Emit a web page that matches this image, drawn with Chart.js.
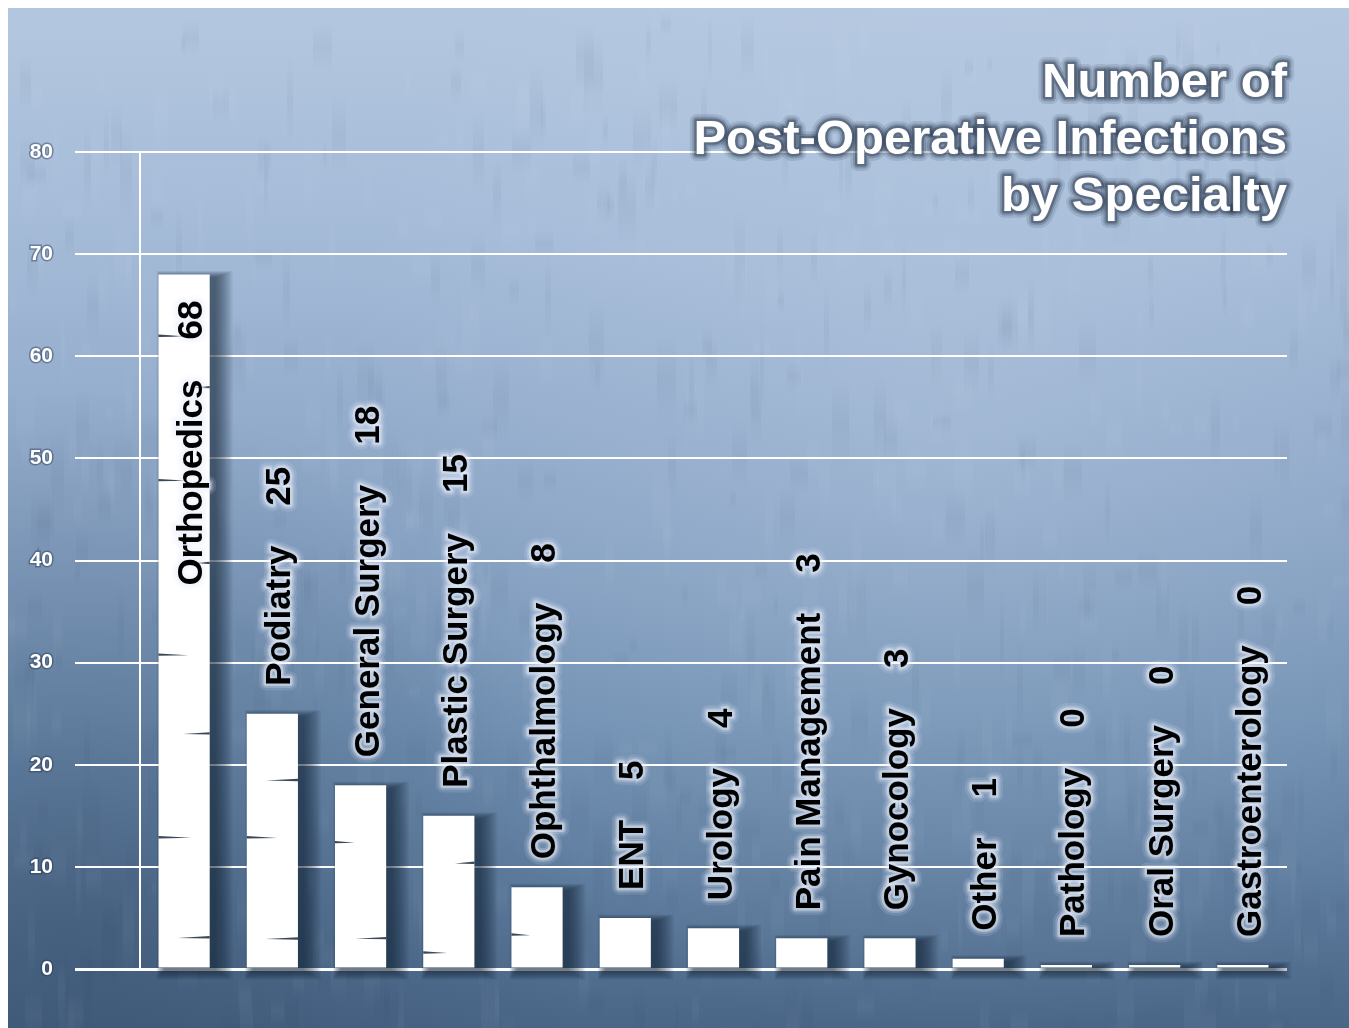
<!DOCTYPE html>
<html>
<head>
<meta charset="utf-8">
<script src="https://cdn.jsdelivr.net/npm/chart.js@4/dist/chart.umd.min.js"></script>
<style>
  html, body { margin: 0; padding: 0; background: #ffffff; overflow: hidden; }
  #wrap { position: absolute; left: 8px; top: 8px; width: 1341px; height: 1020px; }
</style>
</head>
<body>
<div id="wrap"><canvas id="chart" width="1341" height="1020"></canvas></div>
<script>
// Infection counts per surgical specialty
const categories = [
  'Orthopedics', 'Podiatry', 'General Surgery', 'Plastic Surgery', 'Ophthalmology',
  'ENT', 'Urology', 'Pain Management', 'Gynocology', 'Other',
  'Pathology', 'Oral Surgery', 'Gastroenterology'
];
const infections = [68, 25, 18, 15, 8, 5, 4, 3, 3, 1, 0, 0, 0];
const yTicks = [0, 10, 20, 30, 40, 50, 60, 70, 80];
const titleLines = ['Number of', 'Post-Operative Infections', 'by Specialty'];

const FONT = '"Liberation Sans", Arial, Helvetica, sans-serif';

// cheap deterministic hash for the paper texture
function hash(n) {
  const s = Math.sin(n * 127.1 + 311.7) * 43758.5453;
  return s - Math.floor(s);
}

// text with a soft halo built from layered strokes
function haloText(ctx, text, x, y, halo, fill, widths, alphas) {
  ctx.save();
  ctx.lineJoin = 'round';
  for (let k = 0; k < widths.length; k++) {
    ctx.strokeStyle = halo.replace('A', alphas[k]);
    ctx.lineWidth = widths[k];
    ctx.strokeText(text, x, y);
  }
  ctx.fillStyle = fill;
  ctx.fillText(text, x, y);
  ctx.restore();
}

const decor = {
  id: 'decor',
  beforeDraw(chart) {
    const { ctx, width, height } = chart;
    ctx.save();
    const g = ctx.createLinearGradient(0, 0, 0, height);
    g.addColorStop(0.00, '#b4c7e0');
    g.addColorStop(0.25, '#a2b9d6');
    g.addColorStop(0.50, '#8aa4c5');
    g.addColorStop(0.70, '#7190b2');
    g.addColorStop(0.85, '#5e7c9e');
    g.addColorStop(1.00, '#4a6687');
    ctx.fillStyle = g;
    ctx.fillRect(0, 0, width, height);
    let r = ctx.createRadialGradient(950, 420, 40, 950, 420, 620);
    r.addColorStop(0, 'rgba(205,220,238,0.25)');
    r.addColorStop(1, 'rgba(205,220,238,0)');
    ctx.fillStyle = r;
    ctx.fillRect(0, 0, width, height);
    r = ctx.createRadialGradient(60, 900, 20, 60, 900, 520);
    r.addColorStop(0, 'rgba(30,50,75,0.30)');
    r.addColorStop(1, 'rgba(30,50,75,0)');
    ctx.fillStyle = r;
    ctx.fillRect(0, 0, width, height);
    // faint mottled streaks, softened with vertical fades
    for (let i = 0; i < 700; i++) {
      const x = Math.floor(hash(i) * width);
      const y = Math.floor(hash(i + 5000) * height);
      const w = 4 + Math.floor(hash(i + 9000) * 16);
      const h = 20 + Math.floor(hash(i + 13000) * 80);
      const light = hash(i + 17000) > 0.5;
      const base = light ? '225,235,250' : '20,40,70';
      const sg = ctx.createLinearGradient(0, y, 0, y + h);
      sg.addColorStop(0, `rgba(${base},0)`);
      sg.addColorStop(0.5, `rgba(${base},0.045)`);
      sg.addColorStop(1, `rgba(${base},0)`);
      ctx.fillStyle = sg;
      ctx.fillRect(x, y, w, h);
    }
    ctx.restore();
  },
  beforeDatasetsDraw(chart) {
    const ctx = chart.ctx;
    const meta = chart.getDatasetMeta(0);
    ctx.save();
    // layered soft shadow to the right of and below each bar
    meta.data.forEach((bar) => {
      const left = bar.x - bar.width / 2;
      const top = bar.y;
      const h = bar.base - bar.y;
      for (let k = 0; k < 14; k++) {
        ctx.fillStyle = 'rgba(15,28,50,0.06)';
        ctx.fillRect(left + 6 - k * 0.6, top + 3 - k * 0.5, bar.width + k * 1.9, h + k * 1.2);
      }
    });
    ctx.restore();
  },
  afterDatasetsDraw(chart) {
    const { ctx, chartArea } = chart;
    const meta = chart.getDatasetMeta(0);

    // hairline cracks across the taller bars
    ctx.save();
    meta.data.forEach((bar, i) => {
      const h = bar.base - bar.y;
      if (h < 60) return;
      const left = bar.x - bar.width / 2;
      const right = bar.x + bar.width / 2;
      let y = bar.y + 40 + hash(i + 300) * 30;
      let side = i % 2;
      let n = 0;
      while (y < bar.base - 12) {
        const len = bar.width * (0.35 + hash(i * 7 + n) * 0.3);
        ctx.fillStyle = 'rgba(25,40,60,0.85)';
        ctx.beginPath();
        if (side === 0) {
          ctx.moveTo(left, y - 1.2); ctx.lineTo(left + len, y + 0.6); ctx.lineTo(left, y + 1.2);
        } else {
          ctx.moveTo(right, y - 1.2); ctx.lineTo(right - len, y + 0.6); ctx.lineTo(right, y + 1.2);
        }
        ctx.closePath();
        ctx.fill();
        side = 1 - side;
        n++;
        y += 45 + hash(i * 11 + n) * 60;
      }
    });
    ctx.restore();

    // vertical labels: name and value
    const GAP = 40;
    const maxStart = chartArea.bottom - 32;
    ctx.save();
    ctx.font = `bold 35px ${FONT}`;
    ctx.textAlign = 'left';
    ctx.textBaseline = 'alphabetic';
    meta.data.forEach((bar, i) => {
      const name = categories[i];
      const val = String(infections[i]);
      const wName = ctx.measureText(name).width;
      const wVal = ctx.measureText(val).width;
      const total = wName + GAP + wVal;
      let start = Math.min(bar.y - 28, maxStart);
      if (start - total < chartArea.top) start = bar.y + 26 + total;
      ctx.save();
      ctx.translate(bar.x + 18, start);
      ctx.rotate(-Math.PI / 2);
      haloText(ctx, name, 0, 0, 'rgba(235,242,252,A)', '#000000', [14, 9, 5], [0.12, 0.22, 0.45]);
      haloText(ctx, val, wName + GAP, 0, 'rgba(235,242,252,A)', '#000000', [14, 9, 5], [0.12, 0.22, 0.45]);
      ctx.restore();
    });
    ctx.restore();
  },
  afterDraw(chart) {
    const { ctx, chartArea } = chart;
    ctx.save();
    ctx.font = `bold 49px ${FONT}`;
    ctx.textAlign = 'right';
    ctx.textBaseline = 'alphabetic';
    titleLines.forEach((line, i) => {
      haloText(ctx, line, chartArea.right, 89 + i * 57, 'rgba(25,38,60,A)', '#ffffff', [14, 9, 5], [0.12, 0.2, 0.35]);
    });
    ctx.restore();
  }
};

new Chart(document.getElementById('chart'), {
  type: 'bar',
  data: {
    labels: categories,
    datasets: [{
      data: infections,
      backgroundColor: '#ffffff',
      borderWidth: 0,
      barPercentage: 0.58,
      categoryPercentage: 1.0,
      minBarLength: 4,
      clip: false
    }]
  },
  options: {
    responsive: false,
    animation: false,
    events: [],
    layout: { padding: { left: 0, top: 144, right: 62, bottom: 59 } },
    plugins: { legend: { display: false }, tooltip: { enabled: false }, title: { display: false } },
    scales: {
      x: { display: false },
      y: {
        min: 0,
        max: 80,
        afterFit(scale) { scale.width = 132; },
        afterBuildTicks(scale) { scale.ticks = yTicks.map(v => ({ value: v })); },
        grid: {
          color: '#ffffff',
          lineWidth: (c) => (c.tick && c.tick.value === 0 ? 3 : 2),
          tickLength: 65,
          drawTicks: true
        },
        border: { display: true, color: '#ffffff', width: 2 },
        ticks: {
          color: '#ffffff',
          padding: 22,
          textStrokeColor: 'rgba(40,58,85,0.45)',
          textStrokeWidth: 3,
          font: { family: FONT, size: 21, weight: 'bold' }
        }
      }
    }
  },
  plugins: [decor]
});
</script>
</body>
</html>
